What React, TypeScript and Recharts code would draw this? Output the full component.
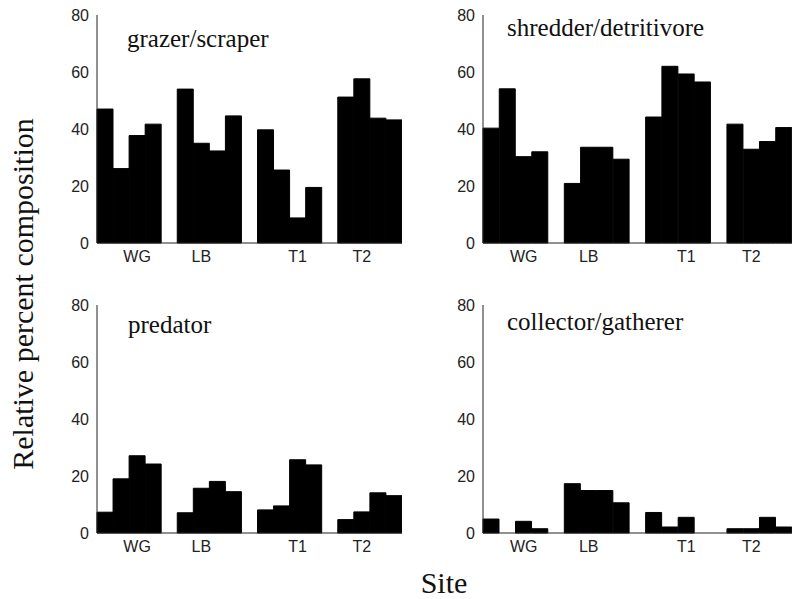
import { BarChart, Bar, XAxis, YAxis } from 'recharts';

const SITES = ['WG', 'LB', 'T1', 'T2'];
// which of the four bars in a group the site label sits under
const LABEL_AT = [2, 1, 2, 1];
const Y_TICKS = [0, 20, 40, 60, 80];

// four samples per site, in site order
const GRAZER = [47.0, 26.1, 37.7, 41.7, 54.0, 35.0, 32.3, 44.6, 39.7, 25.6, 8.8, 19.5, 51.2, 57.6, 43.8, 43.2];
const SHREDDER = [40.3, 54.1, 30.3, 32.0, 20.9, 33.6, 33.6, 29.4, 44.2, 62.0, 59.3, 56.5, 41.7, 32.9, 35.6, 40.5];
const PREDATOR = [7.3, 19.0, 27.1, 24.2, 7.1, 15.7, 18.1, 14.5, 8.1, 9.5, 25.7, 23.9, 4.7, 7.4, 14.1, 13.1];
const COLLECTOR = [4.9, 0, 4.1, 1.5, 17.3, 14.9, 14.9, 10.6, 7.2, 2.1, 5.5, 0, 1.5, 1.5, 5.5, 2.1];

type Row = {
  key: string;
  grazer: number | null;
  shredder: number | null;
  predator: number | null;
  collector: number | null;
};

const rows: Row[] = [];
const labelOf: Record<string, string> = {};
SITES.forEach((site, s) => {
  for (let j = 0; j < 4; j++) {
    const key = `${site}-${j}`;
    labelOf[key] = j === LABEL_AT[s] ? site : '';
    const k = s * 4 + j;
    rows.push({ key, grazer: GRAZER[k], shredder: SHREDDER[k], predator: PREDATOR[k], collector: COLLECTOR[k] });
  }
  if (s < SITES.length - 1) {
    const key = `gap-${s}`;
    labelOf[key] = '';
    rows.push({ key, grazer: null, shredder: null, predator: null, collector: null });
  }
});

const SANS = "'Liberation Sans', Arial, sans-serif";
const SERIF = "'Liberation Serif', 'Times New Roman', serif";
const tickStyle = { fontSize: 16, fill: '#222', fontFamily: SANS };

function Panel({ dataKey, left, top, width }: { dataKey: keyof Row; left: number; top: number; width: number }) {
  return (
    <div style={{ position: 'absolute', left, top }}>
      <BarChart
        width={width}
        height={268}
        data={rows}
        margin={{ top: 10, right: 0, bottom: 0, left: 0 }}
        barCategoryGap={0}
        barGap={0}
      >
        <XAxis
          dataKey="key"
          interval={0}
          height={30}
          tickFormatter={(v) => labelOf[v] ?? ''}
          tickLine={false}
          axisLine={{ stroke: '#222' }}
          tick={tickStyle}
        />
        <YAxis
          domain={[0, 80]}
          ticks={Y_TICKS}
          width={50}
          tickLine={false}
          axisLine={{ stroke: '#222' }}
          tick={tickStyle}
        />
        {/* stroke closes the hairline seams between touching bars */}
        <Bar dataKey={dataKey} fill="#000" stroke="#000" strokeWidth={1} isAnimationActive={false} />
      </BarChart>
    </div>
  );
}

export default function App() {
  return (
    <div style={{ position: 'absolute', left: 0, top: 0, width: 792, height: 599, overflow: 'hidden', background: '#fff' }}>
      <Panel dataKey="grazer" left={47} top={5} width={355} />
      <Panel dataKey="shredder" left={433} top={5} width={359} />
      <Panel dataKey="predator" left={47} top={295} width={355} />
      <Panel dataKey="collector" left={433} top={295} width={359} />
      <svg width={792} height={599} style={{ position: 'absolute', left: 0, top: 0, pointerEvents: 'none' }}>
        <g fontFamily={SERIF} fill="#111" fontSize={25}>
          <text x={127} y={47}>grazer/scraper</text>
          <text x={507} y={36}>shredder/detritivore</text>
          <text x={128} y={333}>predator</text>
          <text x={507} y={330}>collector/gatherer</text>
        </g>
        <g fontFamily={SERIF} fill="#111" fontSize={30} textAnchor="middle">
          <text transform="translate(33,294) rotate(-90)">Relative percent composition</text>
          <text x={444} y={593}>Site</text>
        </g>
      </svg>
    </div>
  );
}
